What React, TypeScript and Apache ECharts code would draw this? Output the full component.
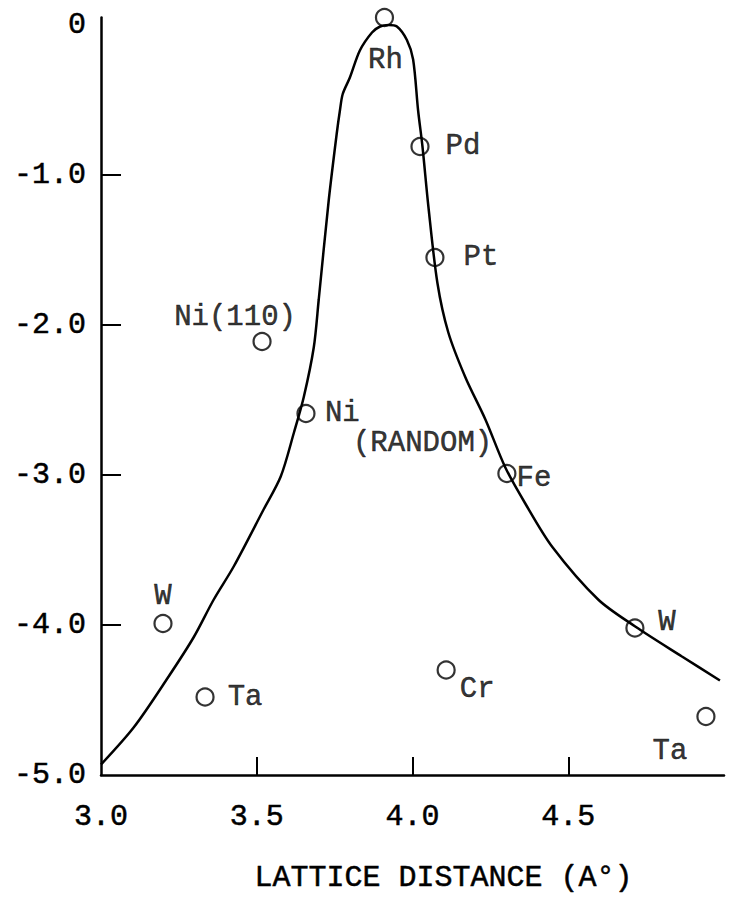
import React, { useEffect, useRef } from "react";
import * as echarts from "echarts";

// Adsorption data points: metal, lattice distance (Å) and energy value
const metals = ["Rh", "Pd", "Pt", "Ni(110)", "Ni", "Fe", "W", "Ta", "Cr", "W", "Ta"];
const notes = ["", "", "", "", "(RANDOM)", "", "", "", "", "", ""];
const latticeDistance = [3.91, 4.024, 4.072, 3.517, 3.658, 4.303, 3.199, 3.334, 4.108, 4.714, 4.942];
const energy = [0.05, -0.81, -1.55, -2.11, -2.59, -2.99, -3.99, -4.48, -4.3, -4.02, -4.61];

// Hand-drawn trend curve through the data
const curveX = [
  3.0, 3.106, 3.215, 3.298, 3.362, 3.426, 3.522, 3.577, 3.619, 3.651, 3.683, 3.699, 3.731,
  3.757, 3.767, 3.776, 3.799, 3.831, 3.87, 3.896, 3.923, 3.95, 3.982, 4.002, 4.018, 4.032,
  4.051, 4.08, 4.115, 4.17, 4.234, 4.298, 4.362, 4.449, 4.596, 4.715, 4.865, 4.987,
];
const curveY = [
  -4.93, -4.68, -4.35, -4.08, -3.83, -3.61, -3.23, -3.01, -2.72, -2.48, -2.15, -1.83, -1.17,
  -0.72, -0.57, -0.46, -0.35, -0.17, -0.05, -0.01, 0.0, -0.01, -0.1, -0.23, -0.57, -0.81,
  -1.21, -1.72, -2.05, -2.35, -2.63, -2.95, -3.19, -3.48, -3.83, -4.01, -4.21, -4.37,
];

// Axis ticks and labels
const xTickValues = [3.5, 4.0, 4.5];
const xLabelValues = [3.0, 3.5, 4.0, 4.5];
const yTickValues = [-1, -2, -3, -4];
const yLabelValues = [0, -1, -2, -3, -4, -5];

// Label placement (pixel offset of label centre from its marker)
const labelOffsets: [number, number][] = [
  [1, 43], [43, 0], [46, 0], [-27, -24], [19, 15], [27, 5],
  [0, -27], [40, 0], [31, 19], [32, -6], [-36, 35],
];

const FONT = "'Courier New', 'Liberation Mono', monospace";
// a thin outline in the text colour gives the heavier typewriter stroke
const INK = { color: "#000", textBorderColor: "#000", textBorderWidth: 0.5 };

export default function App() {
  const ref = useRef<HTMLDivElement>(null);

  useEffect(() => {
    if (!ref.current) return;
    const chart = echarts.init(ref.current, null, { renderer: "svg" });

    const points = metals.map((m, i) => {
      const note = notes[i];
      return {
        name: m,
        value: [latticeDistance[i], energy[i]],
        label: note
          ? {
              formatter: `{n|${m}}\n{r|${note}}`,
              align: "left",
              offset: labelOffsets[i],
              lineHeight: 30,
              rich: {
                n: { fontSize: 29, fontFamily: FONT, lineHeight: 30, ...INK },
                r: { fontSize: 29, fontFamily: FONT, lineHeight: 30, padding: [0, 0, 0, 28], ...INK },
              },
            }
          : { offset: labelOffsets[i] },
      };
    });

    chart.setOption({
      animation: false,
      backgroundColor: "#fff",
      grid: {
        left: 101,
        top: 17.5,
        width: 623,
        height: 757.5,
        containLabel: false,
        outerBoundsMode: "none",
      },
      xAxis: {
        type: "value",
        min: 3,
        max: 5,
        interval: 0.5,
        axisLine: { onZero: false, lineStyle: { color: "#000", width: 2.5 } },
        axisTick: {
          inside: true,
          length: 18,
          customValues: xTickValues,
          lineStyle: { color: "#000", width: 2 },
        },
        axisLabel: {
          customValues: xLabelValues,
          formatter: (v: number) => v.toFixed(1),
          fontSize: 30,
          fontFamily: FONT,
          margin: 27,
          ...INK,
        },
        splitLine: { show: false },
        name: "LATTICE DISTANCE (A°)",
        nameLocation: "middle",
        nameGap: 88,
        nameTextStyle: {
          fontSize: 30,
          lineHeight: 30,
          fontFamily: FONT,
          padding: [0, 0, 0, 62],
          ...INK,
        },
      },
      yAxis: {
        type: "value",
        min: -5,
        max: 0.05,
        interval: 1,
        axisLine: { onZero: false, lineStyle: { color: "#000", width: 2.5 } },
        axisTick: {
          inside: true,
          length: 20,
          customValues: yTickValues,
          lineStyle: { color: "#000", width: 2 },
        },
        axisLabel: {
          customValues: yLabelValues,
          formatter: (v: number) => (v === 0 ? "0" : v.toFixed(1)),
          fontSize: 30,
          fontFamily: FONT,
          margin: 15,
          ...INK,
        },
        splitLine: { show: false },
      },
      series: [
        {
          type: "line",
          data: curveX.map((x, i) => [x, curveY[i]]),
          smooth: 0.3,
          showSymbol: false,
          lineStyle: { color: "#000", width: 2.5 },
          z: 2,
        },
        {
          type: "scatter",
          data: points,
          symbol: "circle",
          symbolSize: 17,
          clip: false,
          itemStyle: { color: "rgba(0,0,0,0)", borderColor: "#000", borderWidth: 2.2 },
          label: {
            show: true,
            position: "inside",
            formatter: (p: any) => p.name,
            align: "center",
            verticalAlign: "middle",
            fontSize: 29,
            fontFamily: FONT,
            ...INK,
          },
          z: 3,
        },
      ],
    });

    return () => chart.dispose();
  }, []);

  return (
    <div
      ref={ref}
      style={{ position: "fixed", left: 0, top: 0, width: 730, height: 897, background: "#fff" }}
    />
  );
}
